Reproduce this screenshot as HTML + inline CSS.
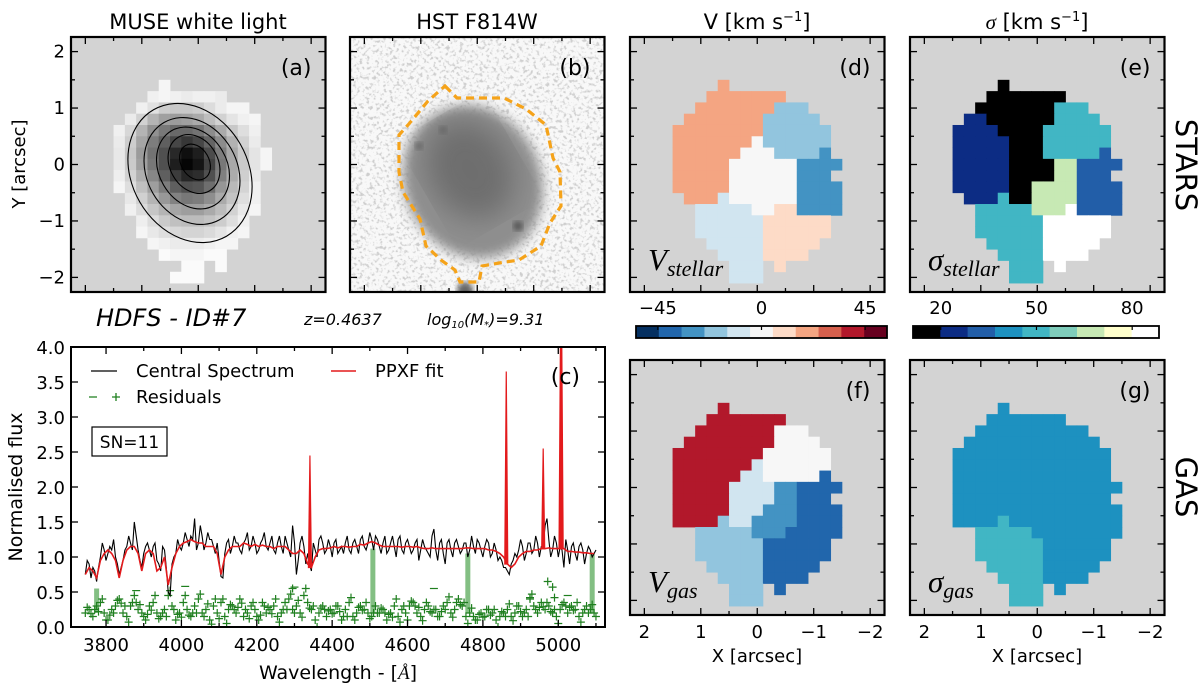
<!DOCTYPE html>
<html><head><meta charset="utf-8"><style>
html,body{margin:0;padding:0;background:#fff;}
svg{display:block;font-family:"DejaVu Sans","Liberation Sans",sans-serif;}
</style></head><body>
<svg id="fig" width="1200" height="689" viewBox="0 0 1200 689" xmlns="http://www.w3.org/2000/svg">
<defs>
<filter id="noise" x="0" y="0" width="100%" height="100%">
<feTurbulence type="fractalNoise" baseFrequency="0.3" numOctaves="2" seed="7"/>
<feColorMatrix type="matrix" values="0 0 0 0 0.62  0 0 0 0 0.62  0 0 0 0 0.62  -4.5 0 0 0 2.2"/>
</filter>
<filter id="blur1"><feGaussianBlur stdDeviation="6"/></filter>
<filter id="blur2"><feGaussianBlur stdDeviation="14"/></filter>
<filter id="blur3"><feGaussianBlur stdDeviation="3"/></filter>
<clipPath id="clipB"><rect x="350" y="37" width="254" height="255"/></clipPath>
<clipPath id="clipC"><rect x="71" y="347" width="534" height="280"/></clipPath>
</defs>
<g id="root"></g>
</svg>
<script>
// ---------- data ----------
const mapD = ["....O..........","...OOOOOOO.....","..OOOOOOOBBB...",".OOOOOOOBBBBB..","OOOOOOOOBBBBBB.","OOOOOOOWBBBBBB.","OOOOOOWWWBBBBM.","OOOOOWWWWWWMMMM","OOOOOWWWWWWMMM.","OOOOOWWWWWWMMMM",".OOOLWWWWWWMMMM","..LLLLLWWPPMMMM","..LLLLLLPPPPPP.","..LLLLLLPPPPPP.","...LLLLLPPPPP..","....LLLLPPPP...",".....LLL.P.....",".....LLL......."];
const mapE = ["....K..........","...KKKKKKK.....","..KKKKKKKTTT...",".NNKKKKKKTTTT..","NNNNKKKKTTTTTT.","NNNNNKKKTTTTTT.","NNNNNKKKTTTTTR.","NNNNNKKKKGGRRRR","NNNNNKKKKGGRRR.","NNNNNKKGGGGRRRR",".NNNTKKGGGGRRRR","..TTTTTGGGXRRRR","..TTTTTTXXXXXX.","..TTTTTTXXXXXX.","...TTTTTXXXXX..","....TTTTXXXX...",".....TTT.X.....",".....TTT......."];
const mapF = ["....Q..........","...QQQQQQQ.....","..QQQQQQQWWW...",".QQQQQQQQWWWW..","QQQQQQQQWWWWWW.","QQQQQQQLWWWWWW.","QQQQQQLLWWWWWD.","QQQQQLLLLMMDDDD","QQQQQLLLLMMDDD.","QQQQQLLLMMMDDDD","QQQQBLLMMMMDDDD","..BBBBBMMMDDDDD","..BBBBBBDDDDDD.","..BBBBBBDDDDDD.","...BBBBBDDDDD..","....BBBBDDDD...",".....BBB.D.....",".....BBB......."];
const mapG = ["....U..........","...UUUUUUU.....","..UUUUUUUUUU...",".UUUUUUUUUUUU..","UUUUUUUUUUUUUU.","UUUUUUUUUUUUUU.","UUUUUUUUUUUUUU.","UUUUUUUUUUUUUUU","UUUUUUUUUUUUUU.","UUUUUUUUUUUUUUU","UUUUTUUUUUUUUUU","..TTTTTUUUUUUUU","..TTTTTTUUUUUU.","..TTTTTTUUUUUU.","...TTTTTUUUUU..","....TTTTUUUU...",".....TTT.U.....",".....TTT......."];
const mapColors = {O:"#f4a582",B:"#92c5de",W:"#f7f7f7",M:"#4393c3",L:"#d1e5f0",P:"#fddbc7",K:"#000000",N:"#0c2c84",T:"#41b6c4",G:"#c7e9b4",R:"#225ea8",X:"#ffffff",Q:"#b2182b",D:"#2166ac",U:"#1d91c0"};
const grayA = [
[0,0,0,0,245,0,0,0,0,0,0,0,0,0,0],
[0,0,0,240,245,240,235,240,240,235,0,0,0,0,0],
[0,0,240,225,205,200,200,205,220,235,245,245,0,0,0],
[0,235,210,180,160,155,160,170,190,210,228,240,245,0,0],
[240,215,180,145,120,105,105,115,140,170,200,222,240,0,0],
[235,205,165,125,95,70,55,70,100,140,178,210,235,0,0],
[232,200,155,115,80,40,15,30,75,125,168,202,228,245,0],
[232,202,160,120,80,30,5,20,65,120,168,202,228,245,0],
[238,210,175,135,95,60,38,45,80,128,172,207,233,0,0],
[245,222,192,158,125,95,80,85,110,150,185,212,240,0,0],
[0,232,208,180,152,130,120,125,142,170,195,222,240,0,0],
[0,240,220,198,180,165,158,158,170,188,210,232,245,0,0],
[0,0,238,220,202,192,188,188,195,205,222,240,0,0,0],
[0,0,245,232,222,216,212,212,218,228,240,245,0,0,0],
[0,0,0,245,240,235,235,235,240,245,245,0,0,0,0],
[0,0,0,0,250,245,245,245,250,250,0,0,0,0,0],
[0,0,0,0,0,0,250,250,0,250,0,0,0,0,0],
[0,0,0,0,0,250,250,250,0,0,0,0,0,0,0]];
const contourCx = [190,192,193,194,195];
const contourCy = [173,171,168,164,162];
const contourA = [58,45,34,24,14];
const contourB = [73,56,43,31,19];
const vTicks = [-45,0,45];
const vBins = ["#053061","#2166ac","#4393c3","#92c5de","#d1e5f0","#f7f7f7","#fddbc7","#f4a582","#d6604d","#b2182b","#67001f"];
const sTicks = [20,50,80];
const sBins = ["#000000","#0c2c84","#225ea8","#1d91c0","#41b6c4","#7fcdbb","#c7e9b4","#ffffcc","#ffffff"];
// spectrum: values at 3745,3755,... and midpoints 3750,3760,...
const specFlux = [0.75,0.9,0.85,0.65,1.0,1.1,1.05,1.1,1.0,0.75,0.95,1.15,1.2,1.5,1.1,0.85,1.15,1.1,1.15,0.95,0.8,1.1,0.5,0.9,1.05,1.15,1.2,1.25,1.3,1.55,1.2,1.3,1.2,1.25,1.15,1.2,0.72,1.05,1.25,1.15,1.2,1.1,1.2,1.35,1.15,1.2,1.1,1.25,1.15,1.2,1.1,1.2,1.15,1.3,1.1,1.45,0.75,1.2,1.15,1.05,0.8,1.1,1.25,1.2,1.1,1.15,1.2,1.05,1.15,1.2,1.1,1.2,1.15,1.25,1.15,1.2,1.25,1.3,1.15,1.2,1.05,1.2,1.15,1.25,1.1,1.2,1.15,1.1,1.25,1.1,1.15,1.05,1.3,1.1,1.2,1.05,1.2,1.1,1.2,1.15,1.1,1.2,1.1,1.15,1.25,1.1,1.15,1.2,1.05,1.1,1.0,0.85,0.8,0.9,1.05,1.1,1.15,1.05,1.2,1.1,1.2,1.15,1.45,1.25,1.1,1.2,1.15,0.85,1.1,1.15,1.05,1.15,1.1,1.05,1.1,1.05];
const specFluxMid = [0.95,0.7,0.8,0.85,1.2,0.95,1.15,1.25,0.9,0.85,1.1,1.3,1.1,1.3,0.95,1.05,1.2,1.0,1.2,0.9,1.15,0.85,0.45,1.0,1.25,1.1,1.35,1.15,1.25,1.1,1.45,1.1,1.35,1.25,1.05,0.95,0.7,1.2,1.05,1.3,1.2,1.05,1.25,1.1,1.3,1.05,1.2,1.35,1.1,1.3,1.05,1.3,1.05,1.2,1.0,1.2,0.95,1.3,0.9,0.9,1.2,1.0,1.3,1.05,1.25,1.0,1.25,1.1,1.05,1.3,1.05,1.25,1.05,1.3,1.1,1.35,1.1,1.25,1.05,1.3,1.1,1.3,1.0,1.3,1.05,1.25,1.05,1.2,0.95,1.25,1.1,1.0,1.4,0.95,1.25,0.9,1.25,1.0,1.25,1.05,1.2,1.0,1.3,1.05,1.2,1.0,1.25,1.0,1.2,0.95,0.95,0.85,0.75,0.95,1.0,1.25,0.95,1.2,1.05,1.3,1.0,1.15,1.55,1.0,1.3,1.0,1.1,1.25,0.9,1.2,0.95,1.2,0.9,1.15,1.0,1.1];
const fitFlux = [0.75,0.85,0.8,0.7,0.95,1.05,1.1,1.05,0.95,0.7,0.95,1.1,1.15,1.15,1.05,0.8,1.05,1.1,1.05,0.8,0.85,1.0,0.6,0.85,1.05,1.15,1.2,1.22,1.25,1.22,1.2,1.2,1.15,1.15,1.15,1.05,0.75,1.0,1.1,1.15,1.15,1.15,1.2,1.18,1.15,1.18,1.15,1.17,1.15,1.15,1.12,1.15,1.15,1.15,1.1,1.05,1.05,1.1,1.05,0.9,0.85,1.0,1.1,1.12,1.12,1.13,1.15,1.13,1.15,1.15,1.14,1.15,1.15,1.18,1.17,1.2,1.22,1.2,1.17,1.15,1.15,1.15,1.15,1.15,1.14,1.15,1.15,1.14,1.15,1.13,1.12,1.12,1.13,1.12,1.12,1.12,1.12,1.12,1.12,1.12,1.12,1.13,1.13,1.12,1.12,1.12,1.12,1.1,1.1,1.08,1.05,1.0,0.9,0.85,0.9,1.0,1.05,1.08,1.08,1.1,1.1,1.12,1.12,1.13,1.12,1.12,1.12,1.12,1.08,1.08,1.07,1.07,1.06,1.06,1.05,1.05,1.05];
const residFlux = [0.2,0.25,0.15,0.3,0.35,0.2,0.1,0.25,0.3,0.4,0.2,0.15,0.3,0.45,0.25,0.2,0.1,0.3,0.35,0.2,0.15,0.25,0.45,0.3,0.1,0.2,0.35,0.25,0.15,0.3,0.4,0.2,0.25,0.1,0.3,0.2,0.35,0.15,0.25,0.3,0.2,0.4,0.15,0.2,0.3,0.25,0.1,0.35,0.2,0.25,0.3,0.15,0.2,0.35,0.4,0.25,0.3,0.2,0.45,0.35,0.25,0.1,0.2,0.3,0.15,0.25,0.2,0.3,0.1,0.25,0.35,0.15,0.2,0.3,0.25,0.2,0.15,0.3,0.2,0.25,0.1,0.2,0.3,0.15,0.25,0.2,0.3,0.35,0.2,0.15,0.25,0.3,0.2,0.25,0.15,0.3,0.35,0.2,0.25,0.4,0.3,0.15,0.2,0.15,0.1,0.2,0.15,0.25,0.2,0.1,0.15,0.2,0.25,0.15,0.2,0.3,0.15,0.25,0.4,0.3,0.2,0.35,0.25,0.3,0.2,0.15,0.25,0.35,0.2,0.3,0.25,0.15,0.2,0.3,0.25,0.2];
const residOffset = [0.08,-0.06,0.1,-0.08,0.05,-0.1,0.07,-0.05];
const emisWave = [4341,4862,4960,5006,5009];
const emisPeak = [2.45,3.65,2.55,4.3,4.3];
const maskWave = [3775,4508,4760,5090];
const maskTop = [0.55,1.12,1.05,1.05];
const outlierWave = [4925,4972,4985,4990,4295];
const outlierFlux = [0.42,0.65,0.57,0.42,0.55];
const minusWave = [3880,4010,4300,4670,5025];
const minusFlux = [0.52,0.58,0.57,0.55,0.45];
const specXTicks = [3800,4000,4200,4400,4600,4800,5000];
const specYTicks = [0,0.5,1,1.5,2,2.5,3,3.5,4];
const arcTicks = [2,1,0,-1,-2];

// ---------- helpers ----------
const NS = "http://www.w3.org/2000/svg";
const root = document.getElementById("root");
function mk(tag, attrs, parent){ const e=document.createElementNS(NS,tag); for(const k in attrs) e.setAttribute(k,attrs[k]); (parent||root).appendChild(e); return e; }
function txt(s, attrs, parent){ const e=mk("text",attrs,parent); e.textContent=s; return e; }

const S = 56.45;
function ax(a, left){ return left + 127.25 - a*S; }
function ay(a, top){ return top + 127.5 - a*S; }
const FW = 254.5, FH = 255;
const panels = {a:[71,37], b:[350,37], d:[630,37], e:[910,37], f:[630,360], g:[910,360]};

function frameTicks(left, top, name){
  const g = mk("g",{});
  
  
  for(let v=-2; v<=2.01; v+=0.5){
    const L = Math.abs(v-Math.round(v))<0.01 ? 7 : 4;
    const x = ax(v,left), y = ay(v,top);
    const t1 = mk("line",{x1:x,y1:top+FH,x2:x,y2:top+FH-L,stroke:"#000","stroke-width":1.3},g);
    
    
    const t2 = mk("line",{x1:x,y1:top,x2:x,y2:top+L,stroke:"#000","stroke-width":1.3},g);
    
    
    const t3 = mk("line",{x1:left,y1:y,x2:left+L,y2:y,stroke:"#000","stroke-width":1.3},g);
    
    
    const t4 = mk("line",{x1:left+FW,y1:y,x2:left+FW-L,y2:y,stroke:"#000","stroke-width":1.3},g);
    
    
  }
  const fr = mk("rect",{x:left,y:top,width:FW,height:FH,fill:"none",stroke:"#000","stroke-width":2.2});
  
  
}

function drawMap(map, left, top, name){
  const bg = mk("rect",{x:left,y:top,width:FW,height:FH,fill:"#d3d3d3"});
  
  
  const g = mk("g",{});
  
  
  map.forEach((row, r) => {
    for(let c=0; c<row.length; c++){
      const ch = row[c];
      if(ch === ".") continue;
      const x0 = ax(1.5-0.2*c, left), y0 = ay(1.5-0.2*r, top);
      const cell = mk("rect",{x:x0,y:y0,width:S*0.2+0.4,height:S*0.2+0.4,fill:mapColors[ch]},g);
      
      
    }
  });
}

// ---------- panel a ----------
(function(){
  const [L,T] = panels.a;
  const bg = mk("rect",{x:L,y:T,width:FW,height:FH,fill:"#d3d3d3"});
  
  
  grayA.forEach((row,r)=>{ row.forEach((v,c)=>{ if(!v) return;
    const cell = mk("rect",{x:ax(1.5-0.2*c,L),y:ay(1.5-0.2*r,T),width:S*0.2+0.4,height:S*0.2+0.4,fill:`rgb(${v},${v},${v})`});
    
    
  });});
  for(let i=0;i<contourA.length;i++){
    const el = mk("ellipse",{cx:contourCx[i],cy:contourCy[i],rx:contourA[i],ry:contourB[i],transform:`rotate(-30 ${contourCx[i]} ${contourCy[i]})`,fill:"none",stroke:"#000","stroke-width":1.1});
    
    
  }
  frameTicks(L,T,'panel-a');
  const lab = txt("(a)",{x:L+FW-14,y:T+38,"font-size":22,"text-anchor":"end"});
  
  
  arcTicks.forEach(v=>{
    const t = txt(v<0?"\u2212"+(-v):String(v),{x:L-6,y:ay(v,T)+6,"font-size":18,"text-anchor":"end"});
    
    
  });
  const yl = txt("Y [arcsec]",{x:0,y:0,"font-size":18,"text-anchor":"middle",transform:`translate(25 ${T+127}) rotate(-90)`});
  
  
  const ti = txt("MUSE white light",{x:L+127,y:29,"font-size":21,"text-anchor":"middle"});
  
  
})();

// ---------- panel b ----------
(function(){
  const [L,T] = panels.b;
  const g = mk("g",{"clip-path":"url(#clipB)"});
  
  
  mk("rect",{x:L,y:T,width:FW,height:FH,fill:"#f8f8f8"},g);
  mk("rect",{x:L,y:T,width:FW,height:FH,fill:"#fff",filter:"url(#noise)"},g);
  mk("ellipse",{cx:473,cy:182,rx:68,ry:78,transform:"rotate(-25 473 182)",fill:"#8e8e8e",filter:"url(#blur1)"},g);
  mk("ellipse",{cx:470,cy:170,rx:42,ry:52,transform:"rotate(-30 470 170)",fill:"#6e6e6e",filter:"url(#blur2)"},g);
  mk("circle",{cx:465,cy:290,r:8,fill:"#666",filter:"url(#blur3)"},g);
  mk("circle",{cx:518,cy:226,r:5,fill:"#555",filter:"url(#blur3)"},g);
  mk("circle",{cx:419,cy:146,r:4,fill:"#666",filter:"url(#blur3)"},g);
  mk("circle",{cx:443,cy:130,r:4,fill:"#666",filter:"url(#blur3)"},g);
  const poly = mk("polygon",{points:"445,86 457,98 504,98 526,109 546,125 553,158 560,172 561,206 550,223 541,246 519,260 499,263 482,266 479,282 460,282 455,270 441,260 426,246 420,219 403,192 399,172 399,135 408,125 428,101",fill:"none",stroke:"#f5a31a","stroke-width":3.2,"stroke-dasharray":"8 5"});
  
  
  frameTicks(L,T,'panel-b');
  const lab = txt("(b)",{x:L+FW-14,y:T+38,"font-size":22,"text-anchor":"end"});
  
  
  const ti = txt("HST F814W",{x:L+127,y:29,"font-size":21,"text-anchor":"middle"});
  
  
})();

// ---------- kinematic maps ----------
function mathLabel(sym, sub, x, y, name){
  const t = mk("text",{x:x,y:y,"font-family":"Liberation Serif, DejaVu Serif, serif","font-style":"italic","font-size":31});
  
  
  const a = mk("tspan",{},t); a.textContent = sym;
  const b = mk("tspan",{"font-size":22,dy:6},t); b.textContent = sub;
}
drawMap(mapD, panels.d[0], panels.d[1], 'v-stellar');
frameTicks(panels.d[0], panels.d[1], 'panel-d');
mathLabel("V","stellar",648,270,'v-stellar-label');
drawMap(mapE, panels.e[0], panels.e[1], 'sigma-stellar');
frameTicks(panels.e[0], panels.e[1], 'panel-e');
mathLabel("\u03C3","stellar",928,270,'sigma-stellar-label');
drawMap(mapF, panels.f[0], panels.f[1], 'v-gas');
frameTicks(panels.f[0], panels.f[1], 'panel-f');
mathLabel("V","gas",648,592,'v-gas-label');
drawMap(mapG, panels.g[0], panels.g[1], 'sigma-gas');
frameTicks(panels.g[0], panels.g[1], 'panel-g');
mathLabel("\u03C3","gas",928,592,'sigma-gas-label');
[["d","(d)"],["e","(e)"],["f","(f)"],["g","(g)"]].forEach(([k,s])=>{
  const t = txt(s,{x:panels[k][0]+FW-14,y:panels[k][1]+38,"font-size":22,"text-anchor":"end"});
  
  
});
["f","g"].forEach(k=>{
  const [L,T] = panels[k];
  arcTicks.forEach(v=>{
    const t = txt(v<0?"\u2212"+(-v):String(v),{x:ax(v,L),y:T+FH+23,"font-size":18,"text-anchor":"middle"});
    
    
  });
  const xl = txt("X [arcsec]",{x:L+127,y:T+FH+47,"font-size":18,"text-anchor":"middle"});
  
  
});
(function(){
  const t1 = mk("text",{x:757,y:29,"font-size":21,"text-anchor":"middle"});
  
  
  t1.innerHTML = 'V [km s<tspan dy="-8" font-size="13">\u22121</tspan><tspan dy="8">]</tspan>';
  const t2 = mk("text",{x:1037,y:29,"font-size":21,"text-anchor":"middle"});
  
  
  t2.innerHTML = '<tspan font-family="Liberation Serif, serif" font-style="italic">\u03C3</tspan> [km s<tspan dy="-8" font-size="13">\u22121</tspan><tspan dy="8">]</tspan>';
  const s1 = txt("STARS",{x:0,y:0,"font-size":29,"text-anchor":"middle",transform:"translate(1176 165) rotate(90)"});
  
  
  const s2 = txt("GAS",{x:0,y:0,"font-size":29,"text-anchor":"middle",transform:"translate(1176 487) rotate(90)"});
  
  
})();

// ---------- colorbars ----------
function colorbar(bins, ticks, vmin, vmax, left, right, name){
  const top = 326, h = 12;
  const sx = v => left + (v-vmin)/(vmax-vmin)*(right-left);
  const w = (right-left)/bins.length;
  bins.forEach((c,i)=>{
    const r = mk("rect",{x:left+i*w,y:top,width:w+0.3,height:h,fill:c});
    
    
  });
  const fr = mk("rect",{x:left,y:top,width:right-left,height:h,fill:"none",stroke:"#000","stroke-width":1.8});
  
  
  ticks.forEach(v=>{
    const tk = mk("line",{x1:sx(v),y1:top,x2:sx(v),y2:top+4,stroke:"#000","stroke-width":1.2});
    
    
    const t = txt(v<0?"\u2212"+(-v):String(v),{x:sx(v),y:314,"font-size":18,"text-anchor":"middle"});
    
    
  });
}
colorbar(vBins, vTicks, -54.5, 54.5, 636, 887, 'velocity-colorbar');
colorbar(sBins, sTicks, 11.3, 88.4, 913, 1159, 'dispersion-colorbar');

// ---------- info text ----------
(function(){
  const h = txt("HDFS - ID#7",{x:96,y:326,"font-size":24,"font-style":"italic"});
  
  
  const z = txt("z=0.4637",{x:304,y:325,"font-size":16,"font-style":"italic"});
  
  
  const m = mk("text",{x:427,y:325,"font-size":16,"font-style":"italic"});
  
  
  m.innerHTML = 'log<tspan font-size="10" dy="3">10</tspan><tspan dy="-3">(M</tspan><tspan font-size="10" dy="3">*</tspan><tspan dy="-3">)=9.31</tspan>';
})();

// ---------- spectrum panel ----------
(function(){
  const L=71, R=605, T=347, B=627, W0=3707, W1=5124;
  const sx = w => L + (w-W0)/(W1-W0)*(R-L);
  const sy = f => B - f/4*(B-T);
  const waves = specFlux.map((_,i)=>3745+10*i);
  const g = mk("g",{"clip-path":"url(#clipC)"});
  
  
  maskWave.forEach((w,i)=>{
    const r = mk("rect",{x:sx(w)-2.5,y:sy(maskTop[i]),width:5,height:sy(0.2)-sy(maskTop[i]),fill:"#5aaa5a","fill-opacity":0.75},g);
    
    
  });
  residFlux.forEach((v,i)=>{
    for(let k=0;k<2;k++){
      const w = waves[i] + (k ? 5 : 0);
      const f = v + (k ? residOffset[i%residOffset.length] : 0);
      const x = sx(w), y = sy(f);
      const p = mk("path",{d:`M${x-4},${y}H${x+4}M${x},${y-4}V${y+4}`,stroke:"#1f7f1f","stroke-width":1.2},g);
      
      
    }
  });
  outlierWave.forEach((w,i)=>{
    const x=sx(w), y=sy(outlierFlux[i]);
    const p = mk("path",{d:`M${x-4},${y}H${x+4}M${x},${y-4}V${y+4}`,stroke:"#1f7f1f","stroke-width":1.2},g);
    
    
  });
  minusWave.forEach((w,i)=>{
    const x=sx(w), y=sy(minusFlux[i]);
    const p = mk("path",{d:`M${x-4},${y}H${x+4}`,stroke:"#1f7f1f","stroke-width":1.2},g);
    
    
  });
  // black spectrum (samples + midpoint samples)
  const bpts = [];
  specFlux.forEach((f,i)=>bpts.push([waves[i],f]));
  specFluxMid.forEach((f,i)=>bpts.push([3750+10*i,f]));
  bpts.sort((a,b)=>a[0]-b[0]);
  let d = "";
  bpts.forEach((p,i)=>{ d += (i?"L":"M") + sx(p[0]).toFixed(1) + "," + sy(p[1]).toFixed(1); });
  const sp = mk("path",{d:d,fill:"none",stroke:"#000","stroke-width":1.1},g);
  
  
  let d2 = "";
  fitFlux.forEach((f,i)=>{ d2 += (i?"L":"M") + sx(waves[i]).toFixed(1) + "," + sy(f).toFixed(1); });
  const fit = mk("path",{d:d2,fill:"none",stroke:"#e31a1c","stroke-width":1.6},g);
  
  
  emisWave.forEach((w,i)=>{
    const base = fitFlux[Math.min(fitFlux.length-1, Math.max(0, Math.round((w-3745)/10)))];
    const x = sx(w);
    const p = mk("path",{d:`M${x-1.5},${sy(base)}L${x},${sy(emisPeak[i])}L${x+1.5},${sy(base)}Z`,fill:"#e31a1c",stroke:"#e31a1c","stroke-width":1.2},g);
    
    
  });
  for(let w=3800; w<=5100; w+=100){
    const major = specXTicks.includes(w);
    const len = major ? 7 : 4;
    const t1 = mk("line",{x1:sx(w),y1:B,x2:sx(w),y2:B-len,stroke:"#000","stroke-width":1.3});
    
    
    const t2 = mk("line",{x1:sx(w),y1:T,x2:sx(w),y2:T+len,stroke:"#000","stroke-width":1.3});
    
    
  }
  specXTicks.forEach(w=>{
    const t = txt(String(w),{x:sx(w),y:B+24,"font-size":18,"text-anchor":"middle"});
    
    
  });
  specYTicks.forEach(f=>{
    const t1 = mk("line",{x1:L,y1:sy(f),x2:L+7,y2:sy(f),stroke:"#000","stroke-width":1.3});
    
    
    const t2 = mk("line",{x1:R,y1:sy(f),x2:R-7,y2:sy(f),stroke:"#000","stroke-width":1.3});
    
    
    const t = txt(f.toFixed(1),{x:L-6,y:sy(f)+7,"font-size":18,"text-anchor":"end"});
    
    
  });
  const fr = mk("rect",{x:L,y:T,width:R-L,height:B-T,fill:"none",stroke:"#000","stroke-width":2});
  
  
  const yl = txt("Normalised flux",{x:0,y:0,"font-size":19,"text-anchor":"middle",transform:`translate(22 ${(T+B)/2}) rotate(-90)`});
  
  
  const xl = mk("text",{x:338,y:679,"font-size":19,"text-anchor":"middle"});
  
  
  xl.innerHTML = 'Wavelength - [<tspan font-family="Liberation Serif, serif" font-style="italic">\u00C5</tspan>]';
  const pl = txt("(c)",{x:580,y:384,"font-size":22,"text-anchor":"end"});
  
  
  const lg = mk("g",{});
  
  
  const l1 = mk("line",{x1:91,y1:371,x2:117,y2:371,stroke:"#000","stroke-width":1.2},lg);
  
  
  const e1 = txt("Central Spectrum",{x:136,y:377,"font-size":18},lg);
  
  
  const l2 = mk("line",{x1:331,y1:371,x2:356,y2:371,stroke:"#e31a1c","stroke-width":1.4},lg);
  
  
  const e2 = txt("PPXF fit",{x:375,y:377,"font-size":18},lg);
  
  
  const l3 = mk("path",{d:"M89,397H97M112,397H120M116,393V401",stroke:"#1f7f1f","stroke-width":1.3},lg);
  
  
  const e3 = txt("Residuals",{x:136,y:403,"font-size":18},lg);
  
  
  const bx = mk("rect",{x:92,y:427,width:75,height:29,fill:"#fff",stroke:"#000","stroke-width":1.2});
  
  
  const sn = txt("SN=11",{x:129.5,y:448,"font-size":17,"text-anchor":"middle"});
  
  
})();
</script>
</body></html>
